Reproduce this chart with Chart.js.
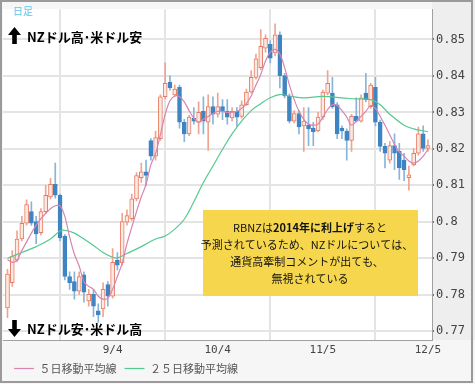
<!DOCTYPE html>
<html>
<head>
<meta charset="utf-8">
<script src="https://cdn.jsdelivr.net/npm/chart.js@4.4.1/dist/chart.umd.min.js"></script>
<style>
  html, body { margin: 0; padding: 0; background: #fff; }
  #wrap { width: 475px; height: 384px; }
</style>
</head>
<body>
<div id="wrap"><canvas id="c" width="475" height="384"></canvas></div>
<script>
// daily NZD/USD candles, trading days from 8/5 to 12/5
const open  = [0.7764,0.7833,0.7895,0.7953,0.7996,0.8028,0.8001,0.7970,0.8028,0.8068,
               0.8103,0.8073,0.7961,0.7850,0.7836,0.7810,0.7855,0.7783,0.7801,0.7756,
               0.7761,0.7828,0.7796,0.7895,0.7887,0.7999,0.8009,0.8063,0.8121,0.8137,
               0.8223,0.8180,0.8228,0.8343,0.8383,0.8348,0.8369,0.8273,0.8241,0.8284,
               0.8273,0.8303,0.8273,0.8316,0.8295,0.8316,0.8303,0.8285,0.8303,0.8289,
               0.8321,0.8356,0.8396,0.8423,0.8476,0.8487,0.8463,0.8513,0.8401,0.8345,
               0.8276,0.8297,0.8263,0.8265,0.8257,0.8249,0.8287,0.8353,0.8353,0.8321,
               0.8257,0.8249,0.8223,0.8289,0.8276,0.8353,0.8316,0.8369,0.8273,0.8207,
               0.8169,0.8209,0.8193,0.8169,0.8121,0.8156,0.8188,0.8241,0.8201];
const high  = [0.7870,0.7921,0.7975,0.8015,0.8060,0.8055,0.8015,0.8036,0.8100,0.8119,
               0.8161,0.8076,0.7965,0.7863,0.7863,0.7863,0.7863,0.7815,0.7815,0.7775,
               0.7833,0.7836,0.7927,0.7916,0.8023,0.8033,0.8076,0.8135,0.8161,0.8169,
               0.8228,0.8249,0.8348,0.8436,0.8401,0.8375,0.8375,0.8281,0.8292,0.8313,
               0.8329,0.8343,0.8348,0.8343,0.8353,0.8335,0.8335,0.8313,0.8313,0.8332,
               0.8364,0.8415,0.8460,0.8527,0.8513,0.8497,0.8543,0.8521,0.8407,0.8351,
               0.8305,0.8305,0.8313,0.8313,0.8273,0.8300,0.8361,0.8415,0.8396,0.8327,
               0.8263,0.8255,0.8295,0.8340,0.8348,0.8407,0.8380,0.8396,0.8279,0.8215,
               0.8220,0.8241,0.8215,0.8188,0.8153,0.8201,0.8260,0.8263,0.8225];
const low   = [0.7737,0.7823,0.7890,0.7948,0.7991,0.7990,0.7940,0.7964,0.8023,0.8063,
               0.8065,0.7948,0.7841,0.7815,0.7788,0.7801,0.7780,0.7769,0.7740,0.7724,
               0.7740,0.7769,0.7791,0.7868,0.7881,0.7991,0.8004,0.8057,0.8108,0.8100,
               0.8169,0.8169,0.8223,0.8337,0.8361,0.8343,0.8257,0.8220,0.8236,0.8268,
               0.8241,0.8241,0.8196,0.8268,0.8287,0.8280,0.8268,0.8276,0.8262,0.8284,
               0.8319,0.8353,0.8391,0.8417,0.8465,0.8436,0.8455,0.8367,0.8340,0.8271,
               0.8271,0.8241,0.8193,0.8209,0.8209,0.8247,0.8281,0.8348,0.8311,0.8228,
               0.8228,0.8169,0.8193,0.8273,0.8273,0.8329,0.8311,0.8263,0.8193,0.8148,
               0.8161,0.8143,0.8116,0.8113,0.8087,0.8153,0.8183,0.8193,0.8193];
const close = [0.7857,0.7905,0.7953,0.7996,0.8047,0.7996,0.7967,0.8028,0.8073,0.8103,
               0.8073,0.7956,0.7850,0.7833,0.7810,0.7850,0.7807,0.7801,0.7769,0.7745,
               0.7815,0.7796,0.7889,0.7881,0.8001,0.8017,0.8063,0.8127,0.8137,0.8127,
               0.8180,0.8231,0.8343,0.8380,0.8367,0.8364,0.8273,0.8241,0.8287,0.8276,
               0.8300,0.8276,0.8316,0.8295,0.8316,0.8303,0.8287,0.8303,0.8287,0.8321,
               0.8356,0.8396,0.8447,0.8481,0.8503,0.8449,0.8513,0.8401,0.8345,0.8276,
               0.8297,0.8260,0.8276,0.8255,0.8247,0.8287,0.8356,0.8380,0.8316,0.8241,
               0.8249,0.8223,0.8289,0.8276,0.8340,0.8335,0.8375,0.8273,0.8207,0.8188,
               0.8209,0.8188,0.8148,0.8143,0.8129,0.8188,0.8241,0.8201,0.8209];

// moving averages as drawn
const ma5 = [0.7897,0.7889,0.7895,0.7921,0.7945,0.7969,0.7991,0.8009,0.8023,0.8036,
             0.8044,0.8044,0.8015,0.7959,0.7911,0.7879,0.7836,0.7823,0.7815,0.7796,
             0.7788,0.7791,0.7815,0.7850,0.7887,0.7940,0.7985,0.8028,0.8068,0.8103,
             0.8156,0.8188,0.8239,0.8295,0.8332,0.8345,0.8343,0.8329,0.8305,0.8284,
             0.8273,0.8281,0.8289,0.8297,0.8303,0.8303,0.8300,0.8300,0.8303,0.8311,
             0.8324,0.8345,0.8375,0.8404,0.8441,0.8465,0.8473,0.8460,0.8423,0.8375,
             0.8335,0.8303,0.8281,0.8268,0.8265,0.8268,0.8287,0.8308,0.8321,0.8319,
             0.8305,0.8287,0.8265,0.8276,0.8289,0.8303,0.8319,0.8311,0.8289,0.8265,
             0.8239,0.8212,0.8191,0.8180,0.8167,0.8161,0.8167,0.8180,0.8199];
const ma25Idx = [0,3,6,9,11,12,14,16,18,20,22,23,25,28,31,33,35,37,39,41,43,45,47,49,51,53,55,57,59,62,66,70,73,76,78,80,83,85,88];
const ma25    = [0.7900,0.7916,0.7932,0.7953,0.7975,0.7977,0.7969,0.7953,0.7935,0.7916,
                 0.7903,0.7901,0.7913,0.7932,0.7953,0.7961,0.7980,0.8007,0.8055,0.8108,
                 0.8153,0.8199,0.8241,0.8276,0.8305,0.8324,0.8340,0.8349,0.8345,0.8340,
                 0.8344,0.8340,0.8337,0.8335,0.8321,0.8295,0.8265,0.8255,0.8247];

const xTickIdx = [0, 22, 44, 66, 88];
const xTickLabels = ['', '9/4', '10/4', '11/5', '12/5'];
const yTicks = [0.77, 0.78, 0.79, 0.80, 0.81, 0.82, 0.83, 0.84, 0.85];

const JP = "'Noto Sans CJK JP', sans-serif";
const idx = open.map((_, i) => i);
const isUp = i => close[i] >= open[i];

function arrow(ctx, cx, tip, end) {
  const d = end > tip ? 1 : -1;
  const hb = tip + d * 8;
  ctx.beginPath();
  ctx.moveTo(cx, tip);
  ctx.lineTo(cx + 6.5, hb);
  ctx.lineTo(cx + 2.3, hb);
  ctx.lineTo(cx + 2.3, end);
  ctx.lineTo(cx - 2.3, end);
  ctx.lineTo(cx - 2.3, hb);
  ctx.lineTo(cx - 6.5, hb);
  ctx.closePath();
  ctx.fill();
}

const decor = {
  id: 'decor',
  beforeDraw(chart) {
    const { ctx, chartArea: ca } = chart;
    ctx.save();
    ctx.fillStyle = '#f6f6f6';
    ctx.fillRect(0, 0, 475, 384);
    ctx.fillStyle = '#eeeeee';
    ctx.fillRect(ca.right, 0, 475 - ca.right, ca.bottom);
    ctx.fillStyle = '#ffffff';
    ctx.fillRect(ca.left, ca.top, ca.right - ca.left, ca.bottom - ca.top);
    ctx.restore();
  },
  afterLayout(chart) {
    chart.legend.left += 3;
    chart.legend.right += 3;
  },
  afterDraw(chart) {
    const ctx = chart.ctx;
    ctx.save();
    // outer frame
    ctx.strokeStyle = '#9a9a9a';
    ctx.lineWidth = 2;
    ctx.strokeRect(1, 1, 471, 381);

    ctx.fillStyle = '#5ec4ec';
    ctx.font = '10px ' + JP;
    ctx.textBaseline = 'middle';
    ctx.fillText('日足', 13, 11);

    ctx.fillStyle = '#000';
    arrow(ctx, 14.5, 27, 44);
    arrow(ctx, 14.5, 337, 320);
    ctx.font = 'bold 13px ' + JP;
    ctx.fillText('NZドル高･米ドル安', 27, 37);
    ctx.fillText('NZドル安･米ドル高', 27, 329);

    // comment box
    ctx.fillStyle = '#f5d64c';
    ctx.fillRect(203, 210, 215, 86);
    ctx.fillStyle = '#111';
    const cx = 310;
    const parts = [['RBNZは', '11px '], ['2014年に利上げ', 'bold 11px '], ['すると', '11px ']];
    let w = 0;
    parts.forEach(p => { ctx.font = p[1] + JP; w += ctx.measureText(p[0]).width; });
    let x = cx - w / 2;
    ctx.textAlign = 'left';
    parts.forEach(p => { ctx.font = p[1] + JP; ctx.fillText(p[0], x, 228); x += ctx.measureText(p[0]).width; });
    ctx.font = '11px ' + JP;
    ctx.textAlign = 'center';
    ctx.fillText('予測されているため、NZドルについては、', cx - 3, 245);
    ctx.fillText('通貨高牽制コメントが出ても、', cx - 3, 262);
    ctx.fillText('無視されている', cx, 279);
    ctx.restore();
  }
};

new Chart(document.getElementById('c'), {
  type: 'bar',
  data: {
    datasets: [
      {
        label: 'wick',
        data: idx.map(i => ({ x: i, y: [low[i], high[i]] })),
        backgroundColor: idx.map(i => isUp(i) ? '#eea48f' : '#88b4da'),
        barThickness: 1,
        grouped: false,
        order: 4
      },
      {
        label: 'body',
        data: idx.map(i => ({ x: i, y: [open[i], close[i]] })),
        backgroundColor: idx.map(i => isUp(i) ? '#fde9e3' : '#3f84c2'),
        borderColor: idx.map(i => isUp(i) ? '#e67b60' : '#3f84c2'),
        borderWidth: 1,
        borderSkipped: false,
        barThickness: 4,
        grouped: false,
        order: 3
      },
      {
        type: 'line',
        label: '５日移動平均線',
        data: ma5.map((v, i) => ({ x: i, y: v })),
        borderColor: '#d884b0',
        borderWidth: 1.2,
        pointRadius: 0,
        tension: 0.3,
        order: 1
      },
      {
        type: 'line',
        label: '２５日移動平均線',
        data: ma25Idx.map((x, k) => ({ x: x, y: ma25[k] })),
        borderColor: '#55c990',
        borderWidth: 1.2,
        pointRadius: 0,
        tension: 0.4,
        order: 2
      }
    ]
  },
  options: {
    responsive: false,
    animation: false,
    layout: { padding: { left: 3, top: 2, right: 2, bottom: 0 } },
    plugins: {
      legend: {
        position: 'bottom',
        align: 'start',
        labels: {
          filter: it => it.datasetIndex >= 2,
          usePointStyle: true,
          pointStyle: 'line',
          pointStyleWidth: 20,
          boxHeight: 11,
          color: '#555',
          font: { family: JP, size: 11 },
          padding: 8
        }
      },
      tooltip: { enabled: false }
    },
    scales: {
      x: {
        type: 'linear',
        min: -0.94,
        max: 88.84,
        offset: false,
        afterBuildTicks: s => { s.ticks = xTickIdx.map(v => ({ value: v })); },
        afterFit: s => { s.height = 15; },
        ticks: {
          callback: (v, i) => xTickLabels[i],
          color: '#444',
          font: { family: 'DejaVu Sans Mono', size: 11 },
          padding: 4,
          maxRotation: 0,
          autoSkip: false
        },
        grid: { color: '#e4e4e4', lineWidth: 2, drawTicks: false },
        border: { color: '#a0a0a0', width: 1 }
      },
      y: {
        position: 'right',
        min: 0.7676,
        max: 0.8583,
        afterBuildTicks: s => { s.ticks = yTicks.map(v => ({ value: v })); },
        afterFit: s => { s.width = 41; },
        ticks: {
          callback: v => String(+v.toFixed(2)),
          color: '#444',
          font: { family: 'DejaVu Sans Mono', size: 12 },
          padding: 2,
          autoSkip: false
        },
        grid: { color: '#e4e4e4', lineWidth: 2, tickLength: 2, tickColor: '#777' },
        border: { color: '#a0a0a0', width: 1 }
      }
    }
  },
  plugins: [decor]
});
</script>
</body>
</html>
